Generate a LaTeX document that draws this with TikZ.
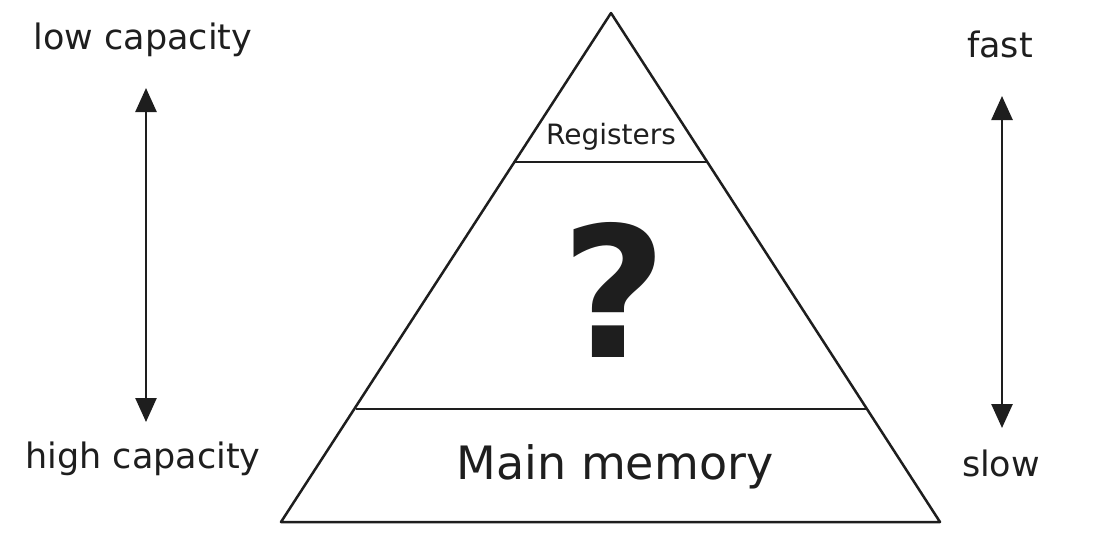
\documentclass[tikz,border=0pt]{standalone}
\usepackage{fontspec}
\setmainfont{DejaVu Sans}
\usetikzlibrary{arrows.meta}
\definecolor{ink}{HTML}{1E1E1E}
\begin{document}
\begin{tikzpicture}[x=1pt,y=-1pt,
  lbl/.style={anchor=base,inner sep=0pt,text=ink},
  edge/.style={draw=ink,line width=2.5pt,line join=round},
  dbl/.style={draw=ink,line width=2.6pt,{Triangle[length=24pt,width=21pt]}-{Triangle[length=24pt,width=21pt]}}]
\useasboundingbox (0,0) rectangle (1110,533);
% triangle
\coordinate (apex) at (611,13);
\coordinate (bl) at (281,522);
\coordinate (br) at (940,522);
\coordinate (r1l) at (515,162);
\coordinate (r1r) at (707,162);
\coordinate (m1l) at (356,409);
\coordinate (m1r) at (866,409);
\draw[edge] (apex) -- (bl) -- (br) -- cycle;
\draw[edge] (r1l) -- (r1r);
\draw[edge] (m1l) -- (m1r);
% labels
\node[lbl,font=\fontsize{28}{32}\selectfont] (reg) at (611,144) {Registers};
\node[lbl,font=\fontsize{46}{52}\selectfont] (mm) at (615,479) {Main memory};
\node[lbl,font=\bfseries\fontsize{182}{190}\selectfont] (q) at (614,357) {?};
\node[lbl,font=\fontsize{35}{40}\selectfont] (low) at (143,49) {low capacity};
\node[lbl,font=\fontsize{35}{40}\selectfont] (high) at (143,468) {high capacity};
\node[lbl,font=\fontsize{35}{40}\selectfont] (fast) at (1000,57) {fast};
\node[lbl,font=\fontsize{35}{40}\selectfont] (slow) at (1001,476) {slow};
% arrows
\coordinate (la) at (146,88);
\coordinate (lb) at (146,422);
\coordinate (ra) at (1002,96);
\coordinate (rb) at (1002,428);
\draw[dbl] (la) -- (lb);
\draw[dbl] (ra) -- (rb);
\end{tikzpicture}
\end{document}
